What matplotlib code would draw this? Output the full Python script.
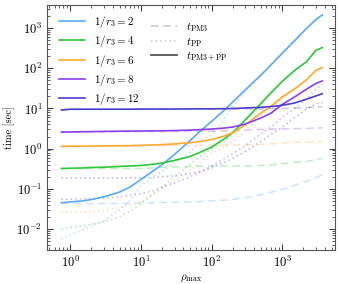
import numpy as np
import matplotlib
matplotlib.use("Agg")
import matplotlib.pyplot as plt
from matplotlib.lines import Line2D

plt.rcParams["font.family"] = "serif"
plt.rcParams["font.serif"] = ["cmr10", "DejaVu Serif"]
plt.rcParams["mathtext.fontset"] = "cm"
plt.rcParams["axes.formatter.use_mathtext"] = True
plt.rcParams["axes.unicode_minus"] = False

rho = [0.75, 1, 1.5, 2, 3, 5, 7, 10, 15, 20, 30, 50, 70, 100, 150, 200,
       300, 500, 700, 1000, 1500, 2200, 3000, 3700]

inv_r3 = [2, 4, 6, 8, 12]
colors = ["#5aaaf5", "#2ec83a", "#ffa833", "#8b3ff0", "#4a3fcf"]

# total time t_PM3+PP
t_tot = {
    2: [0.045, 0.047, 0.050, 0.054, 0.063, 0.083, 0.11, 0.17, 0.28, 0.40,
        0.72, 1.6, 2.77, 4.77, 8.9, 14.5, 29, 68, 124, 237, 490, 980, 1630, 2150],
    4: [0.32, 0.325, 0.33, 0.34, 0.345, 0.36, 0.37, 0.38, 0.41, 0.44, 0.51,
        0.64, 0.82, 1.09, 1.73, 2.5, 5.2, 13.3, 25, 47, 89, 145, 280, 330],
    6: [1.14, 1.15, 1.15, 1.16, 1.17, 1.18, 1.19, 1.21, 1.24, 1.26, 1.31,
        1.41, 1.51, 1.68, 2.05, 2.5, 3.9, 7.7, 11.5, 19.4, 30.6, 51.5, 89, 105],
    8: [2.58, 2.6, 2.64, 2.66, 2.69, 2.72, 2.73, 2.75, 2.77, 2.78, 2.82,
        2.9, 2.98, 3.07, 3.25, 3.45, 4.1, 5.8, 7.7, 12.6, 19.4, 30, 42, 48.7],
    12: [9.2, 9.6, 9.6, 9.6, 9.6, 9.6, 9.6, 9.7, 9.7, 9.7, 9.7, 9.8, 9.8,
         9.8, 9.9, 10.0, 10.3, 10.7, 11.2, 12.0, 13.7, 17, 20.5, 23.4],
}

# PM time t_PM3
t_pm = {
    2: [0.043, 0.043, 0.043, 0.043, 0.043, 0.043, 0.044, 0.044, 0.045, 0.046,
        0.046, 0.047, 0.048, 0.050, 0.052, 0.054, 0.06, 0.071, 0.082, 0.097,
        0.122, 0.154, 0.188, 0.224],
    4: [0.32, 0.32, 0.32, 0.32, 0.32, 0.32, 0.32, 0.32, 0.33, 0.34, 0.35,
        0.36, 0.365, 0.365, 0.37, 0.37, 0.37, 0.38, 0.39, 0.42, 0.46, 0.48,
        0.53, 0.57],
    6: [1.13, 1.13, 1.14, 1.14, 1.15, 1.16, 1.17, 1.18, 1.19, 1.19, 1.2,
        1.2, 1.21, 1.21, 1.22, 1.22, 1.24, 1.28, 1.32, 1.38, 1.45, 1.48,
        1.48, 1.47],
    8: [2.55, 2.56, 2.58, 2.6, 2.61, 2.63, 2.64, 2.65, 2.66, 2.67, 2.68,
        2.7, 2.71, 2.72, 2.75, 2.8, 2.9, 3.0, 3.05, 3.1, 3.15, 3.2, 3.25, 3.3],
    12: [9.1, 9.4, 9.5, 9.5, 9.5, 9.5, 9.5, 9.5, 9.6, 9.6, 9.6, 9.6, 9.6,
         9.6, 9.7, 9.7, 9.8, 9.8, 9.9, 10.0, 10.3, 10.5, 11.0, 11.0],
}

# PP time t_PP
t_pp = {
    2: [0.0056, 0.0072, 0.0095, 0.012, 0.016, 0.03, 0.05, 0.12, 0.2, 0.27,
        0.45, 0.8, 1.6, 2.2, 5.5, 11, 26, 65, 120, 232, 485, 970, 1620, 2140],
    4: [0.010, 0.011, 0.012, 0.013, 0.015, 0.02, 0.027, 0.042, 0.075, 0.11,
        0.2, 0.4, 0.65, 1.0, 1.5, 2.2, 4.8, 12.8, 24.5, 46, 88, 144, 278, 328],
    6: [0.026, 0.026, 0.026, 0.027, 0.029, 0.034, 0.04, 0.047, 0.073, 0.10,
        0.16, 0.30, 0.47, 0.79, 1.1, 1.5, 2.8, 6.5, 10, 18, 29, 50, 87, 103],
    8: [0.055, 0.055, 0.056, 0.057, 0.059, 0.063, 0.068, 0.075, 0.09, 0.11,
        0.14, 0.2, 0.26, 0.37, 0.55, 0.75, 1.2, 2.3, 3.5, 6, 10, 17, 30, 40],
    12: [0.186, 0.186, 0.186, 0.186, 0.186, 0.186, 0.187, 0.188, 0.19, 0.2,
         0.21, 0.24, 0.27, 0.33, 0.45, 0.57, 0.85, 1.5, 2.3, 3.4, 6, 9.5,
         13, 14],
}

xticks = [1, 10, 100, 1000]
yticks = [0.01, 0.1, 1, 10, 100, 1000]

fig = plt.figure(figsize=(3.41, 2.84), dpi=100)
ax = fig.add_axes([0.138, 0.12, 0.844, 0.862])

for r, c in zip(inv_r3, colors):
    ax.plot(rho, t_pm[r], color=c, lw=1.1, ls=(0, (5, 3)), alpha=0.3)
    ax.plot(rho, t_pp[r], color=c, lw=1.1, ls=(0, (1, 2)), alpha=0.4)
for r, c in zip(inv_r3, colors):
    ax.plot(rho, t_tot[r], color=c, lw=1.2, label=r"$1/r_3 = %d$" % r)

ax.set_xscale("log")
ax.set_yscale("log")
ax.set_xticks(xticks)
ax.set_yticks(yticks)
ax.set_xlim(0.47, 5570)
ax.set_ylim(0.003, 3760)
ax.tick_params(which="both", direction="in", top=True, right=True,
               labelsize=9, colors="#444444", labelcolor="black")
ax.tick_params(which="major", length=4, width=0.8)
ax.tick_params(which="minor", length=2, width=0.6)
for s in ax.spines.values():
    s.set_color("#555555")
ax.set_xlabel(r"$\rho_{\rm max}$", fontsize=8, labelpad=2)
ax.set_ylabel(r"time [sec]", fontsize=7.5, labelpad=1)

leg1 = ax.legend(loc="upper left", frameon=False, fontsize=8,
                 handlelength=2.4, labelspacing=0.3, borderaxespad=0.4,
                 bbox_to_anchor=(0.01, 1.0))
ax.add_artist(leg1)

style_handles = [
    Line2D([], [], color="gray", lw=1.1, ls=(0, (5, 3)), alpha=0.45),
    Line2D([], [], color="gray", lw=1.1, ls=(0, (1, 2)), alpha=0.45),
    Line2D([], [], color="#444444", lw=1.2),
]
style_labels = [r"$t_{\rm PM3}$", r"$t_{\rm PP}$", r"$t_{\rm PM3+PP}$"]
ax.legend(style_handles, style_labels, loc="upper left", frameon=False,
          fontsize=8, handlelength=2.4, labelspacing=0.15,
          bbox_to_anchor=(0.325, 0.975))

fig.savefig("out.png", dpi=100)
